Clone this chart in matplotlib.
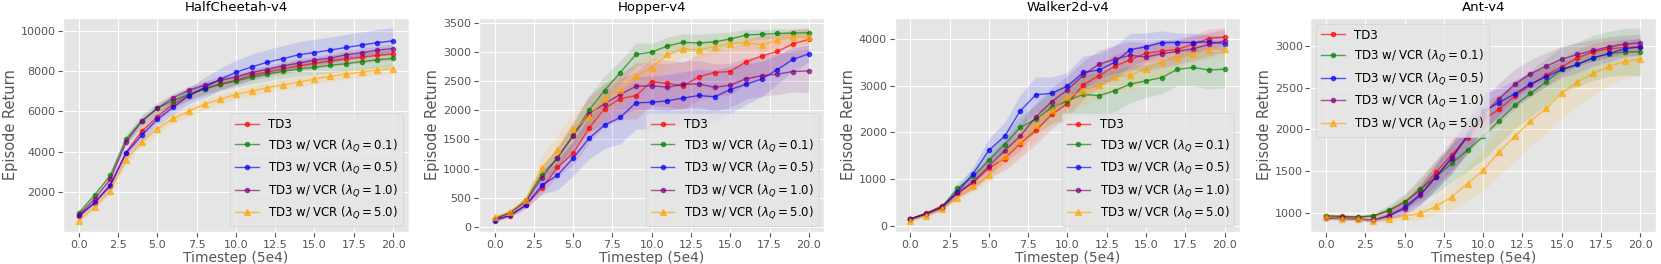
import numpy as np
import matplotlib
matplotlib.use("Agg")
import matplotlib.pyplot as plt
from matplotlib.ticker import MultipleLocator

plt.style.use('ggplot')

steps = np.arange(21)
envs = ['HalfCheetah-v4', 'Hopper-v4', 'Walker2d-v4', 'Ant-v4']
labels = ['TD3',
          r'TD3 w/ VCR ($\lambda_Q = 0.1$)',
          r'TD3 w/ VCR ($\lambda_Q = 0.5$)',
          r'TD3 w/ VCR ($\lambda_Q = 1.0$)',
          r'TD3 w/ VCR ($\lambda_Q = 5.0$)']
colors = ['red', 'green', 'blue', 'purple', 'orange']
markers = ['o', 'o', 'o', 'o', '^']

# mean returns, one list per method, order as in labels
cheetah_mean = [
    [850, 1500, 2370, 3950, 5010, 5740, 6350, 6800, 7130, 7340, 7530, 7790, 7950, 8100, 8250, 8370, 8500, 8600, 8680, 8770, 8830],
    [980, 1860, 2830, 4620, 5530, 6150, 6530, 6840, 7100, 7340, 7500, 7690, 7850, 7980, 8100, 8180, 8280, 8360, 8460, 8550, 8620],
    [800, 1470, 2320, 3935, 4815, 5610, 6200, 6770, 7180, 7590, 7930, 8200, 8430, 8610, 8800, 8910, 9030, 9160, 9280, 9400, 9490],
    [880, 1670, 2630, 4470, 5500, 6150, 6670, 7050, 7290, 7540, 7700, 7920, 8070, 8250, 8390, 8540, 8630, 8800, 8900, 9030, 9110],
    [590, 1260, 2060, 3580, 4490, 5140, 5650, 6000, 6350, 6590, 6840, 7000, 7180, 7310, 7440, 7600, 7730, 7850, 7940, 8040, 8110],
]
cheetah_std = [
    [80, 100, 150, 200, 250, 250, 250, 250, 250, 250, 250, 250, 250, 250, 250, 260, 270, 280, 280, 290, 300],
    [80, 100, 150, 250, 300, 300, 300, 300, 300, 300, 300, 320, 330, 340, 350, 360, 370, 380, 390, 400, 400],
    [80, 100, 150, 200, 250, 300, 350, 400, 500, 550, 600, 620, 630, 640, 650, 650, 650, 650, 650, 650, 650],
    [80, 100, 150, 200, 200, 200, 200, 200, 200, 200, 200, 200, 200, 200, 200, 200, 200, 200, 200, 200, 200],
    [80, 100, 150, 200, 250, 250, 250, 250, 250, 250, 250, 250, 250, 250, 250, 250, 250, 250, 250, 250, 250],
]

hopper_mean = [
    [130, 197, 376, 663, 1022, 1264, 1690, 2028, 2200, 2250, 2490, 2460, 2416, 2573, 2646, 2663, 2826, 2927, 3006, 3135, 3213],
    [140, 247, 460, 900, 1180, 1580, 2000, 2337, 2646, 2955, 2995, 3100, 3163, 3150, 3170, 3220, 3287, 3300, 3315, 3320, 3326],
    [112, 202, 376, 713, 888, 1180, 1517, 1747, 1876, 2129, 2135, 2163, 2208, 2253, 2230, 2354, 2444, 2534, 2697, 2870, 2966],
    [140, 250, 440, 843, 1185, 1556, 1933, 2112, 2270, 2410, 2420, 2393, 2444, 2450, 2393, 2427, 2540, 2590, 2618, 2663, 2674],
    [168, 264, 472, 1017, 1315, 1674, 1882, 2197, 2350, 2590, 2730, 2955, 3050, 3034, 3090, 3140, 3163, 3118, 3202, 3247, 3253],
]
hopper_std = [
    [30, 30, 50, 100, 150, 200, 250, 300, 350, 400, 400, 400, 400, 400, 400, 400, 380, 350, 300, 250, 200],
    [30, 40, 60, 100, 150, 200, 250, 250, 200, 200, 150, 150, 150, 150, 150, 120, 100, 80, 80, 70, 70],
    [30, 30, 50, 150, 250, 300, 350, 400, 450, 450, 450, 450, 450, 450, 450, 400, 350, 300, 250, 200, 150],
    [30, 40, 60, 150, 200, 250, 300, 350, 350, 400, 400, 400, 400, 400, 400, 380, 350, 350, 350, 350, 370],
    [30, 40, 60, 200, 250, 300, 300, 250, 250, 250, 250, 200, 150, 150, 120, 120, 120, 120, 120, 120, 120],
]

walker_mean = [
    [141, 260, 423, 690, 930, 1233, 1438, 1762, 2050, 2390, 2623, 3021, 3222, 3420, 3567, 3701, 3750, 3786, 3900, 4020, 4053],
    [141, 247, 388, 797, 1058, 1410, 1741, 2108, 2291, 2540, 2680, 2820, 2792, 2898, 3040, 3110, 3180, 3356, 3398, 3342, 3363],
    [141, 254, 388, 726, 1114, 1621, 1918, 2467, 2813, 2841, 2996, 3292, 3342, 3511, 3779, 3842, 3934, 3934, 3934, 3948, 3913],
    [141, 254, 380, 705, 930, 1283, 1607, 1925, 2341, 2665, 2919, 3229, 3469, 3574, 3659, 3624, 3694, 3744, 3800, 3892, 3970],
    [99, 211, 352, 600, 846, 1079, 1495, 1812, 2171, 2490, 2764, 2890, 3017, 3194, 3236, 3363, 3525, 3603, 3688, 3779, 3800],
]
walker_std = [
    [30, 40, 50, 100, 150, 200, 250, 300, 300, 300, 300, 300, 250, 250, 250, 200, 200, 200, 200, 200, 200],
    [30, 40, 50, 120, 150, 200, 250, 250, 300, 350, 400, 450, 480, 450, 400, 350, 350, 350, 400, 400, 400],
    [30, 40, 50, 100, 150, 250, 300, 350, 380, 350, 300, 350, 350, 350, 350, 300, 250, 200, 200, 150, 150],
    [30, 40, 50, 100, 150, 200, 250, 300, 300, 300, 300, 300, 300, 300, 300, 300, 300, 280, 260, 250, 250],
    [30, 40, 50, 80, 100, 150, 200, 250, 300, 300, 300, 300, 300, 300, 300, 300, 300, 250, 200, 200, 200],
]

ant_mean = [
    [964, 956, 948, 960, 1020, 1128, 1275, 1484, 1696, 1900, 2120, 2240, 2400, 2532, 2652, 2752, 2860, 2932, 2968, 2984, 2992],
    [956, 952, 948, 960, 1032, 1128, 1280, 1432, 1592, 1752, 1916, 2104, 2288, 2432, 2572, 2720, 2780, 2860, 2908, 2932, 2932],
    [940, 932, 924, 908, 964, 1064, 1220, 1428, 1660, 1932, 2220, 2320, 2428, 2544, 2632, 2720, 2780, 2860, 2912, 2968, 2992],
    [935, 930, 925, 910, 960, 1050, 1208, 1440, 1650, 1920, 2180, 2364, 2540, 2668, 2760, 2844, 2900, 2948, 2992, 3024, 3040],
    [948, 928, 924, 904, 928, 960, 992, 1076, 1190, 1350, 1508, 1728, 1916, 2096, 2252, 2436, 2572, 2672, 2756, 2816, 2844],
]
ant_std = [
    [20, 20, 20, 20, 40, 80, 120, 150, 180, 200, 200, 180, 160, 140, 120, 100, 100, 100, 100, 100, 100],
    [20, 20, 20, 30, 60, 100, 150, 200, 220, 250, 280, 280, 280, 280, 280, 270, 270, 270, 270, 280, 290],
    [20, 20, 20, 20, 40, 80, 120, 150, 180, 200, 200, 180, 160, 140, 120, 100, 100, 100, 100, 100, 100],
    [20, 20, 20, 20, 40, 80, 120, 150, 180, 200, 200, 190, 180, 170, 160, 150, 140, 130, 120, 110, 100],
    [20, 20, 20, 20, 30, 50, 80, 100, 150, 200, 250, 280, 300, 300, 300, 300, 280, 260, 230, 200, 190],
]

means = [cheetah_mean, hopper_mean, walker_mean, ant_mean]
stds = [cheetah_std, hopper_std, walker_std, ant_std]
ytick_step = [2000, 500, 1000, 500]
legend_loc = ['lower right', 'lower right', 'lower right', 'upper left']

fig, axs = plt.subplots(1, 4, figsize=(16.61, 2.64), dpi=100)
fig.subplots_adjust(left=0.038, right=0.997, top=0.932, bottom=0.121, wspace=0.203)

for i, ax in enumerate(axs):
    for j in range(5):
        m = np.array(means[i][j], dtype=float)
        s = np.array(stds[i][j], dtype=float)
        ax.fill_between(steps, m - s, m + s, color=colors[j], alpha=0.12, linewidth=0)
        ax.plot(steps, m, color=colors[j], marker=markers[j],
                markersize=5 if markers[j] == '^' else 3,
                linewidth=1.0, alpha=0.65, label=labels[j])
    ax.set_title(envs[i], fontsize=9.5, pad=5)
    ax.set_xlabel('Timestep (5e4)', fontsize=10, labelpad=1)
    ax.set_ylabel('Episode Return', fontsize=10.5, labelpad=2)
    ax.xaxis.set_major_locator(MultipleLocator(2.5))
    ax.yaxis.set_major_locator(MultipleLocator(ytick_step[i]))
    ax.tick_params(axis='both', labelsize=8, pad=2)
    ax.legend(loc=legend_loc[i], fontsize=8.5)

fig.savefig('out.png', dpi=100)
